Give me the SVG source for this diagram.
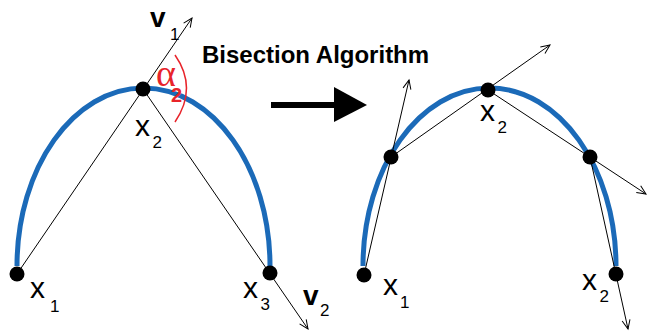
<svg xmlns="http://www.w3.org/2000/svg" width="648" height="331" viewBox="0 0 648 331">
<style>
.curve{fill:none;stroke:#1b6ab8;stroke-width:5}
.ln{fill:none;stroke:#000;stroke-width:1}
.dot{fill:#000}
.lbl{font-family:"Liberation Sans",Arial,sans-serif;font-size:30px;fill:#000}
.sub{font-family:"Liberation Sans",Arial,sans-serif;font-size:17px;fill:#000}
.vec{font-family:"Liberation Sans",Arial,sans-serif;font-size:28px;font-weight:bold;fill:#000}
.title{font-family:"Liberation Sans",Arial,sans-serif;font-size:24px;font-weight:bold;fill:#000}
</style>
<defs>
<marker id="arr" markerWidth="12" markerHeight="12" refX="10" refY="5" orient="auto" markerUnits="userSpaceOnUse">
<path d="M1,1 L10,5 L1,9" fill="none" stroke="#000" stroke-width="1"/>
</marker>
</defs>
<g id="curves">
<path class="curve" d="M17,266 C17,167.7 73.6,88 143.5,88 C213.4,88 270,167.7 270,266"/>
<path class="curve" d="M363,266 C363,167.7 419.6,88 489.5,88 C559.4,88 616,167.7 616,266"/>
</g>
<g id="connectors">
<line class="ln" x1="17" y1="274" x2="192" y2="18" marker-end="url(#arr)"/>
<line class="ln" x1="143" y1="89" x2="308" y2="329" marker-end="url(#arr)"/>
<path d="M175,55 Q198,88 175,122" style="fill:none;stroke:#e8232a;stroke-width:1.5"/>
<line x1="271" y1="105" x2="336" y2="105" stroke="#000" stroke-width="6"/>
<polygon points="334,87 367,105 334,122" fill="#000"/>
<line class="ln" x1="364" y1="275" x2="409" y2="80" marker-end="url(#arr)"/>
<line class="ln" x1="391" y1="157" x2="550" y2="45" marker-end="url(#arr)"/>
<line class="ln" x1="488" y1="90" x2="646" y2="194" marker-end="url(#arr)"/>
<line class="ln" x1="590" y1="157" x2="628" y2="329" marker-end="url(#arr)"/>
</g>
<g id="left-x1"><circle class="dot" cx="17" cy="274" r="7.5"/><text class="lbl" x="30" y="298">x</text><text class="sub" x="50" y="312">1</text></g>
<g id="left-x2"><circle class="dot" cx="143" cy="89" r="7.5"/><text class="lbl" x="135" y="136">x</text><text class="sub" x="152.5" y="148">2</text></g>
<g id="left-x3"><circle class="dot" cx="270" cy="273" r="7.5"/><text class="lbl" x="243" y="298">x</text><text class="sub" x="260.5" y="310">3</text></g>
<g id="v1"><text class="vec" x="150" y="27">v</text><text class="sub" x="170" y="40">1</text></g>
<g id="v2"><text class="vec" x="303" y="305">v</text><text class="sub" x="320" y="316">2</text></g>
<g id="alpha"><text x="156" y="86" style="font-family:'Liberation Serif',serif;font-size:38px;fill:#e8232a">α</text><text x="171" y="102" style="font-family:'Liberation Sans',Arial,sans-serif;font-size:20px;font-weight:bold;fill:#e8232a">2</text></g>
<g id="title"><text class="title" x="202" y="63">Bisection Algorithm</text></g>
<g id="right-x1"><circle class="dot" cx="364" cy="275" r="7.5"/><text class="lbl" x="383" y="295">x</text><text class="sub" x="400" y="308">1</text></g>
<g id="right-mid1"><circle class="dot" cx="391" cy="157" r="7.5"/></g>
<g id="right-x2"><circle class="dot" cx="488" cy="90" r="7.5"/><text class="lbl" x="480" y="121">x</text><text class="sub" x="497.5" y="133">2</text></g>
<g id="right-mid2"><circle class="dot" cx="590" cy="157" r="7.5"/></g>
<g id="right-x2b"><circle class="dot" cx="616" cy="274" r="7.5"/><text class="lbl" x="582" y="290">x</text><text class="sub" x="599.5" y="302">2</text></g>
</svg>
